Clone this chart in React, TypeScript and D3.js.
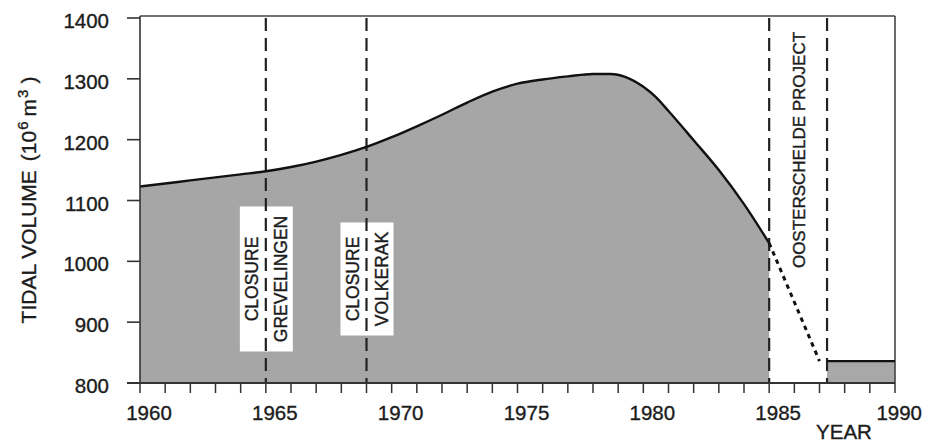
import React from 'react';
import * as d3 from 'd3';

// tidal volume (10^6 m3)
const curveYears = [1960, 1961, 1962, 1963, 1964, 1965, 1966, 1967, 1968, 1969, 1970, 1971, 1972, 1973, 1974, 1975, 1976, 1977, 1978, 1978.7, 1979.3, 1980, 1980.5, 1981, 1982, 1983, 1984, 1985];
const curveValues = [1123, 1128, 1133, 1138, 1143, 1148, 1155, 1164, 1175, 1188, 1204, 1222, 1241, 1261, 1279, 1292, 1299, 1304, 1308, 1308, 1303, 1287, 1270, 1247, 1199, 1150, 1094, 1030];

const projectionYears = [1985, 1987.0];
const projectionValues = [1030, 836];

const afterYears = [1987.3, 1990];
const afterValues = [836, 836];

const eventYears = [1965, 1969, 1985, 1987.3];
const closureLabels = [
    {year: 1965, lines: ["CLOSURE", "GREVELINGEN"]},
    {year: 1969, lines: ["CLOSURE", "VOLKERAK"]},
];
const projectLabel = "OOSTERSCHELDE PROJECT";

const xTickYears = d3.range(1960, 1991);
const xTickLabels = [1960, 1965, 1970, 1975, 1980, 1985, 1990];
const yTickLabels = [800, 900, 1000, 1100, 1200, 1300, 1400];

const font = "'Liberation Sans', Arial, Helvetica, sans-serif";
const ink = "#1c1c1c";

const App = () => {
    const width = 925;
    const height = 444;

    const x = d3.scaleLinear().domain([1960, 1990]).range([140, 895]);
    const y = d3.scaleLinear().domain([800, 1400]).range([383, 18]);

    const pts = curveYears.map((yr, i) => ({yr, v: curveValues[i]}));
    const after = afterYears.map((yr, i) => ({yr, v: afterValues[i]}));
    const proj = projectionYears.map((yr, i) => ({yr, v: projectionValues[i]}));

    const area = d3.area<{yr: number, v: number}>()
        .x(d => x(d.yr))
        .y0(y(800))
        .y1(d => y(d.v))
        .curve(d3.curveMonotoneX);
    const line = d3.line<{yr: number, v: number}>()
        .x(d => x(d.yr))
        .y(d => y(d.v))
        .curve(d3.curveMonotoneX);
    const straight = d3.line<{yr: number, v: number}>()
        .x(d => x(d.yr))
        .y(d => y(d.v));

    const boxFont = 17.5;
    const boxMid = 279;

    return (
        <svg width={width} height={height}
             style={{position: "absolute", left: 0, top: 0, background: "white"}}
             fontFamily={font}>

            {/* shaded areas */}
            <path d={area(pts) || ""} fill="#a6a6a6"/>
            <path d={area(after) || ""} fill="#a8a8a8"/>

            {/* frame */}
            <line x1={x(1960)} x2={x(1990)} y1={y(1400) - 2} y2={y(1400) - 2} stroke="#444" strokeWidth={1.6}/>
            <line x1={x(1990)} x2={x(1990)} y1={y(1400) - 2} y2={y(800)} stroke="#444" strokeWidth={1.6}/>

            {/* closure labels */}
            {closureLabels.map(c => {
                const cx = x(c.year);
                const h = c.lines[1].length > 9 ? 145 : 113;
                return (
                    <g key={c.year}>
                        <rect x={cx - 26} y={boxMid - h / 2} width={53} height={h} fill="white"/>
                        {c.lines.map((t, i) => (
                            <text key={t}
                                  transform={`translate(${cx + (i === 0 ? -14 : 15)},${boxMid}) rotate(-90)`}
                                  textAnchor="middle" dy="0.36em" fontSize={boxFont}
                                  fill={ink} stroke={ink} strokeWidth={0.4}>{t}</text>
                        ))}
                    </g>
                );
            })}

            {/* event lines */}
            {eventYears.map(yr => (
                <line key={yr} x1={x(yr)} x2={x(yr)} y1={y(1400)} y2={y(800)}
                      stroke="#222" strokeWidth={2.2} strokeDasharray="13 7"/>
            ))}

            <text transform={`translate(${(x(1985) + x(1987.3)) / 2 + 1},150) rotate(-90)`}
                  textAnchor="middle" dy="0.36em" fontSize={17}
                  fill={ink} stroke={ink} strokeWidth={0.4}>{projectLabel}</text>

            {/* series */}
            <path d={line(pts) || ""} fill="none" stroke="#111" strokeWidth={2.4}/>
            <path d={straight(proj) || ""} fill="none" stroke="#111" strokeWidth={3} strokeDasharray="4.5 4.5"/>
            <path d={straight(after) || ""} fill="none" stroke="#111" strokeWidth={2.2}/>

            {/* axes */}
            <line x1={x(1960)} x2={x(1960)} y1={y(1400) - 2} y2={y(800)} stroke="#333" strokeWidth={1.6}/>
            <line x1={x(1960) - 13} x2={x(1990)} y1={y(800)} y2={y(800)} stroke="#333" strokeWidth={1.8}/>
            {yTickLabels.map(v => (
                <g key={v}>
                    <line x1={x(1960) - 13} x2={x(1960)} y1={y(v)} y2={y(v)} stroke="#333" strokeWidth={1.6}/>
                    <text x={109} y={y(v) + 10} textAnchor="end" fontSize={20.5}
                          fill={ink} stroke={ink} strokeWidth={0.35}>{v}</text>
                </g>
            ))}
            {xTickYears.map(yr => (
                <line key={yr} x1={x(yr)} x2={x(yr)} y1={y(800)} y2={y(800) + 10} stroke="#333" strokeWidth={1.5}/>
            ))}
            {xTickLabels.map(yr => (
                <text key={yr} x={yr === 1990 ? 922 : x(yr) + 9} y={420}
                      textAnchor={yr === 1990 ? "end" : "middle"} fontSize={20.5}
                      fill={ink} stroke={ink} strokeWidth={0.35}>{yr}</text>
            ))}

            <text x={844} y={439} textAnchor="middle" fontSize={20.5}
                  fill={ink} stroke={ink} strokeWidth={0.35}>YEAR</text>

            <text transform="translate(28,200) rotate(-90)" textAnchor="middle" dy="0.36em" fontSize={21}
                  fill={ink} stroke={ink} strokeWidth={0.35}>
                TIDAL VOLUME<tspan dx={9}>(10</tspan><tspan fontSize={15} dx={1} dy={-8}>6</tspan>
                <tspan dx={5} dy={8}>m</tspan>
                <tspan fontSize={15} dx={1} dy={-8}>3</tspan>
                <tspan dx={6} dy={8}>)</tspan>
            </text>
        </svg>
    );
};

export default App;
